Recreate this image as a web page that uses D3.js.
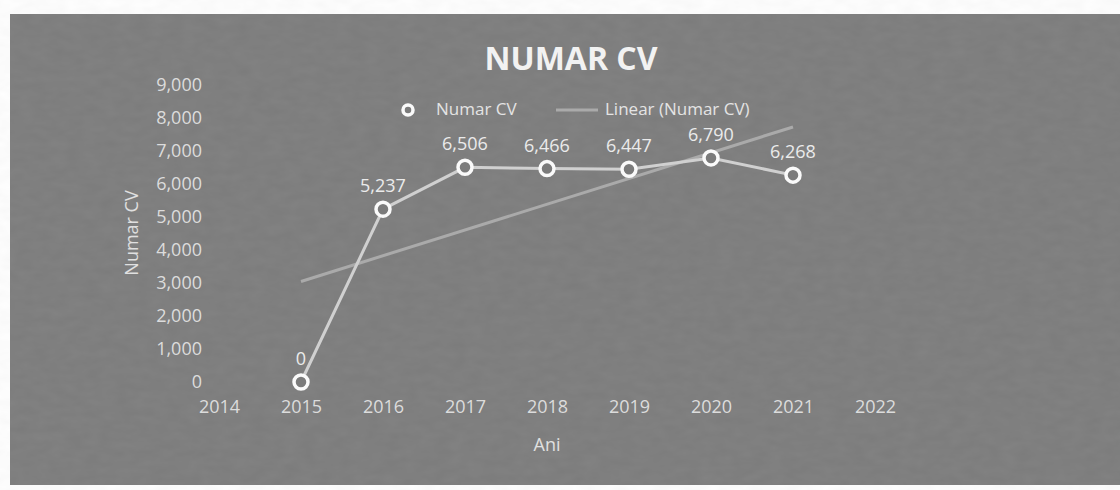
<!DOCTYPE html>
<html>
<head>
<meta charset="utf-8">
<script src="https://cdn.jsdelivr.net/npm/d3@7"></script>
<style>
  html, body { margin: 0; padding: 0; background: #fff; }
  svg { display: block; font-family: "Open Sans", sans-serif; }
</style>
</head>
<body>
<div id="chart"></div>
<script>
// data
const years = [2015, 2016, 2017, 2018, 2019, 2020, 2021];
const numarCV = [0, 5237, 6506, 6466, 6447, 6790, 6268];
const xTicks = [2014, 2015, 2016, 2017, 2018, 2019, 2020, 2021, 2022];
const yTicks = [0, 1000, 2000, 3000, 4000, 5000, 6000, 7000, 8000, 9000];

const width = 1120, height = 490;
const bg = "#7b7b7b";

const svg = d3.select("#chart").append("svg")
    .attr("width", width)
    .attr("height", height);

// light grain so the grey looks like the scanned page
const defs = svg.append("defs");
const grain = defs.append("filter").attr("id", "grain");
grain.append("feTurbulence")
    .attr("type", "fractalNoise")
    .attr("baseFrequency", "0.06 0.12")
    .attr("numOctaves", 2)
    .attr("seed", 4);
grain.append("feColorMatrix")
    .attr("type", "matrix")
    .attr("values", "0 0 0 0 0.5  0 0 0 0 0.5  0 0 0 0 0.5  0 0 0 0.12 0");

svg.append("rect")
    .attr("x", 10).attr("y", 14)
    .attr("width", width - 10).attr("height", 471)
    .attr("fill", bg);
svg.append("rect")
    .attr("x", 10).attr("y", 14)
    .attr("width", width - 10).attr("height", 471)
    .attr("filter", "url(#grain)");

const x = d3.scaleLinear().domain([2014, 2022]).range([219, 875]);
const y = d3.scaleLinear().domain([0, 9000]).range([382, 85]);

// title
svg.append("text")
    .attr("x", 571).attr("y", 70)
    .attr("text-anchor", "middle")
    .style("font-size", "32px")
    .style("font-weight", "700")
    .style("fill", "#f2f2f2")
    .text("NUMAR CV");

// y axis labels
const yAxis = svg.append("g")
    .attr("transform", "translate(202,0)")
    .call(d3.axisLeft(y).tickValues(yTicks).tickSize(0).tickPadding(0).tickFormat(d3.format(",")));
yAxis.select(".domain").remove();
yAxis.selectAll("text")
    .style("font-size", "18px")
    .style("font-family", "Open Sans, sans-serif")
    .style("fill", "#dcdcdc");

// x axis labels
const xAxis = svg.append("g")
    .attr("transform", "translate(0,400)")
    .call(d3.axisBottom(x).tickValues(xTicks).tickSize(0).tickPadding(0).tickFormat(d3.format("d")));
xAxis.select(".domain").remove();
xAxis.selectAll("text")
    .style("font-size", "18px")
    .style("font-family", "Open Sans, sans-serif")
    .style("fill", "#dcdcdc");

// axis titles
svg.append("text")
    .attr("transform", "translate(138,233) rotate(-90)")
    .attr("text-anchor", "middle")
    .style("font-size", "18px")
    .style("fill", "#e0e0e0")
    .text("Numar CV");

svg.append("text")
    .attr("x", 547).attr("y", 451)
    .attr("text-anchor", "middle")
    .style("font-size", "18px")
    .style("fill", "#e0e0e0")
    .text("Ani");

// linear trend (least squares over the series)
const mx = d3.mean(years), my = d3.mean(numarCV);
const slope = d3.sum(years, (d, i) => (d - mx) * (numarCV[i] - my)) / d3.sum(years, d => (d - mx) * (d - mx));
const trend = [years[0], years[years.length - 1]].map(t => [t, my + slope * (t - mx)]);

svg.append("path")
    .datum(trend)
    .attr("fill", "none")
    .attr("stroke", "#aaaaaa")
    .attr("stroke-width", 3)
    .attr("d", d3.line().x(d => x(d[0])).y(d => y(d[1])));

// series line
const pts = years.map((t, i) => [t, numarCV[i]]);
svg.append("path")
    .datum(pts)
    .attr("fill", "none")
    .attr("stroke", "#d0d0d0")
    .attr("stroke-width", 3)
    .attr("d", d3.line().x(d => x(d[0])).y(d => y(d[1])));

svg.append("g")
    .selectAll("circle")
    .data(pts)
    .enter()
    .append("circle")
    .attr("cx", d => x(d[0]))
    .attr("cy", d => y(d[1]))
    .attr("r", 7)
    .attr("fill", bg)
    .attr("stroke", "#fafafa")
    .attr("stroke-width", 3.5);

svg.append("g")
    .selectAll("text")
    .data(pts)
    .enter()
    .append("text")
    .attr("x", d => x(d[0]))
    .attr("y", d => y(d[1]) - 17)
    .attr("text-anchor", "middle")
    .style("font-size", "18px")
    .style("fill", "#ebebeb")
    .text(d => d3.format(",")(d[1]));

// legend
const legend = svg.append("g");
legend.append("circle")
    .attr("cx", 408).attr("cy", 110)
    .attr("r", 5)
    .attr("fill", bg)
    .attr("stroke", "#fafafa")
    .attr("stroke-width", 3.5);
legend.append("text")
    .attr("x", 436).attr("y", 115)
    .style("font-size", "17px")
    .style("fill", "#e4e4e4")
    .text("Numar CV");
legend.append("line")
    .attr("x1", 556).attr("x2", 598)
    .attr("y1", 110).attr("y2", 110)
    .attr("stroke", "#aaaaaa")
    .attr("stroke-width", 3);
legend.append("text")
    .attr("x", 605).attr("y", 115)
    .style("font-size", "17px")
    .style("fill", "#e4e4e4")
    .text("Linear (Numar CV)");
</script>
</body>
</html>
